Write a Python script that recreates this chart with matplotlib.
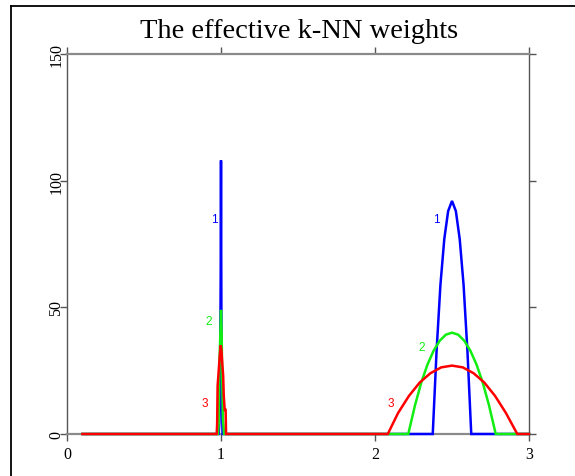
import matplotlib
matplotlib.use("Agg")
import matplotlib.pyplot as plt
from matplotlib.lines import Line2D

# effective weights of the 1-, 2- and 3-NN smoothers on a grid over [0.1, 3]
blue_x = [0.10, 0.985, 0.990, 0.993, 0.996, 0.998, 1.000, 1.002, 1.004, 1.010,
          2.375, 2.400, 2.425, 2.450, 2.475, 2.500, 2.525, 2.550, 2.575, 2.600, 2.625, 3.00]
blue_y = [0, 0, 5, 20, 40, 63, 108, 60, 20, 0,
          0, 33, 59, 77, 88, 92, 88, 77, 59, 33, 0, 0]

green_x = [0.10, 0.980, 0.985, 0.990, 0.995, 1.000, 1.004, 1.008, 1.012, 1.020,
           2.216, 2.26, 2.30, 2.34, 2.38, 2.42, 2.46, 2.50, 2.54, 2.58, 2.62, 2.66,
           2.70, 2.74, 2.784, 3.00]
green_y = [0, 0, 4, 28, 38, 49, 40, 22, 6, 0,
           0, 11.4, 20.2, 27.3, 32.8, 36.8, 39.2, 40, 39.2, 36.8, 32.8, 27.3,
           20.2, 11.4, 0, 0]

red_x = [0.10, 0.972, 0.975, 0.978, 0.985, 0.992, 0.998, 1.003, 1.008, 1.014,
         1.018, 1.024, 1.030, 1.033,
         2.083, 2.15, 2.22, 2.29, 2.36, 2.43, 2.50, 2.57, 2.64, 2.71, 2.78, 2.85,
         2.924, 3.00]
red_y = [0, 0, 4, 19, 25, 31, 35, 33, 28, 23,
         15, 9.5, 9.5, 0,
         0, 8.3, 15.0, 20.3, 24.0, 26.3, 27, 26.3, 24.0, 20.3, 15.0, 8.3,
         0, 0]

curve_names = ["1", "2", "3"]
curve_colors = ["#0000ff", "#11ee11", "#ff0000"]
# where each curve's number is written (one spot per bump)
label_x = [[0.955, 2.40], [0.918, 2.305], [0.895, 2.10]]
label_y = [[85, 85], [44.5, 34.5], [12.3, 12.3]]

x_ticks = [0, 1, 2, 3]
y_ticks = [0, 50, 100, 150]

fig = plt.figure(figsize=(5.75, 4.77), dpi=100)
ax = fig.add_axes([67 / 575, 1 - 435 / 477, 462 / 575, 380 / 477])

series = [(blue_x, blue_y), (green_x, green_y), (red_x, red_y)]
for (xs, ys), col in zip(series, curve_colors):
    ax.plot(xs, ys, color=col, lw=1.8, solid_joinstyle="miter", clip_on=False, zorder=3)

for name, col, lx, ly in zip(curve_names, curve_colors, label_x, label_y):
    for xx, yy in zip(lx, ly):
        ax.text(xx, yy, name, color=col, fontsize=8.5, ha="center", va="center",
                family=["Liberation Sans", "DejaVu Sans"])

ax.set_xlim(0, 3)
ax.set_ylim(0, 150)
ax.set_xticks(x_ticks)
ax.set_yticks(y_ticks)
ax.set_xticklabels([str(v) for v in x_ticks], family="Liberation Serif", fontsize=11.5)
ax.set_yticklabels([str(v) for v in y_ticks], family="Liberation Serif", fontsize=11.5,
                   rotation=90, va="center")
ax.tick_params(axis="both", direction="out", length=5, width=1, color="#555555",
               top=True, right=True, labeltop=False, labelright=False)
ax.tick_params(axis="x", pad=4)
ax.tick_params(axis="y", pad=-3)

for side in ["left", "right"]:
    ax.spines[side].set_color("#555555")
    ax.spines[side].set_linewidth(1.0)
for side in ["top", "bottom"]:
    ax.spines[side].set_color("#8a8a8a")
    ax.spines[side].set_linewidth(1.6)

# outer frame lines
fig.add_artist(Line2D([10.5 / 575, 10.5 / 575], [0, 1 - 7 / 477], color="black", lw=1.3))
fig.add_artist(Line2D([10.5 / 575, 1], [1 - 7 / 477, 1 - 7 / 477], color="black", lw=1.3))

fig.text(299 / 575, 1 - 32 / 477, "The effective k-NN weights", ha="center", va="center",
         family="Liberation Serif", fontsize=20.5)

fig.savefig("out.png", dpi=100)
